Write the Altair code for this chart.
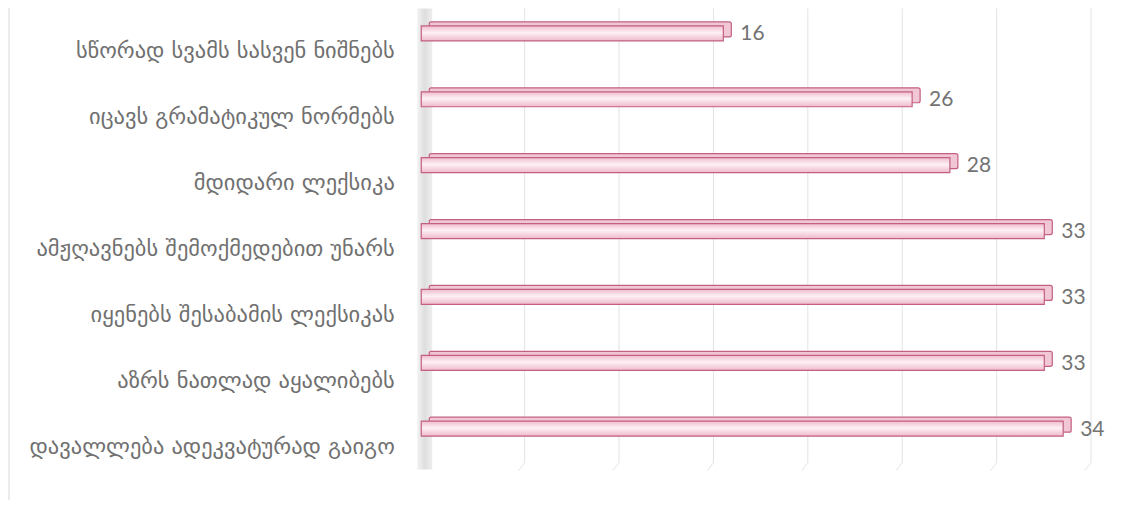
import altair as alt
import pandas as pd

categories = [
    "სწორად სვამს სასვენ ნიშნებს",
    "იცავს გრამატიკულ ნორმებს",
    "მდიდარი ლექსიკა",
    "ამჟღავნებს შემოქმედებით უნარს",
    "იყენებს შესაბამის ლექსიკას",
    "აზრს ნათლად აყალიბებს ",
    "დავალლება ადეკვატურად გაიგო",
]
values = [16, 26, 28, 33, 33, 33, 34]
grid_ticks = [0, 5, 10, 15, 20, 25, 30, 35]

df = pd.DataFrame({"cat": categories, "val": values})
gdf = pd.DataFrame({"g": grid_ticks})

W, H = 662, 462
xs = alt.Scale(domain=[0, 35], nice=False, zero=True)
ysc = alt.Scale(domain=categories, paddingInner=0, paddingOuter=0)

grid_v = alt.Chart(gdf).transform_filter("datum.g > 0").mark_rule(
    color="#e3e3e3", strokeWidth=1, xOffset=6, x2Offset=6
).encode(
    x=alt.X("g:Q", scale=xs, axis=None),
    y=alt.value(0),
    y2=alt.value(455),
)
grid_d = alt.Chart(gdf).transform_filter("datum.g > 0").mark_rule(
    color="#e3e3e3", strokeWidth=1, xOffset=6, x2Offset=0
).encode(
    x=alt.X("g:Q", scale=xs, axis=None),
    x2="g:Q",
    y=alt.value(455),
    y2=alt.value(463),
)
wall = alt.Chart(gdf).transform_filter("datum.g == 0").mark_rect(
    fill=alt.Gradient(gradient="linear", x1=0, x2=1, y1=0, y2=0,
                      stops=[alt.GradientStop(color="#f2f2f2", offset=0),
                             alt.GradientStop(color="#dedede", offset=0.5),
                             alt.GradientStop(color="#eeeeee", offset=1)]),
    xOffset=-7, x2Offset=8
).encode(
    x=alt.X("g:Q", scale=xs, axis=None),
    x2="g:Q",
    y=alt.value(0),
    y2=alt.value(462),
)
border = alt.Chart(gdf).transform_filter("datum.g == 0").mark_rule(color="#d9d9d9").encode(
    x=alt.value(-416), y=alt.value(-8), y2=alt.value(500)
)

back = alt.Chart(df).mark_bar(
    size=15, yOffset=-12, xOffset=5, x2Offset=5, fill="#f1c6d5", stroke="#c25f83", strokeWidth=1.2,
    cornerRadius=2,
).encode(
    y=alt.Y("cat:N", sort=categories, scale=ysc, title=None,
            axis=alt.Axis(labelFont="DejaVu Sans", labelFontSize=22.5, labelColor="#707070",
                          labelOffset=10, labelPadding=30, ticks=False, domain=False, grid=False,
                          labelLimit=420)),
    x=alt.X("val:Q", scale=xs, axis=None),
    x2=alt.datum(0),
)
front = alt.Chart(df).mark_bar(
    size=15, yOffset=-8, xOffset=-3, x2Offset=-3,
    fill=alt.Gradient(gradient="linear", x1=0, x2=0, y1=0, y2=1,
                      stops=[alt.GradientStop(color="#efbccd", offset=0),
                             alt.GradientStop(color="#fdf0f4", offset=0.45),
                             alt.GradientStop(color="#eebaca", offset=1)]),
    stroke="#c25f83", strokeWidth=1.2,
).encode(
    y=alt.Y("cat:N", sort=categories, scale=ysc),
    x=alt.X("val:Q", scale=xs, axis=None),
    x2=alt.datum(0),
)
labels = alt.Chart(df).mark_text(
    align="left", baseline="middle", dx=14, yOffset=-7, font="Lato", fontSize=21, color="#737373"
).encode(
    y=alt.Y("cat:N", sort=categories, scale=ysc),
    x=alt.X("val:Q", scale=xs, axis=None),
    text="val:Q",
)

chart = alt.layer(border, wall, grid_v, grid_d, back, front, labels).properties(
    width=W, height=H,
    background="white",
    autosize=alt.AutoSizeParams(type="none"),
    padding={"left": 417, "top": 0, "right": 30, "bottom": 30},
).configure_view(stroke="transparent", strokeWidth=0)

chart.save("out.html", embed_options={"renderer": "svg", "actions": False})
